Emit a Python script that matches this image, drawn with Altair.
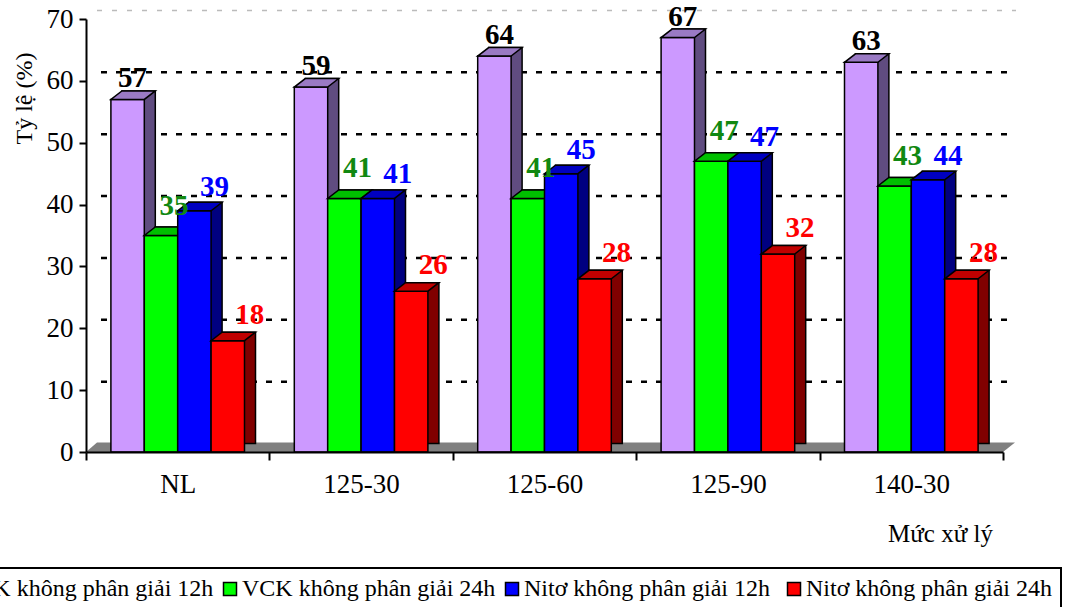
import altair as alt
import pandas as pd

# ---------------- data ----------------
categories = ["NL", "125-30", "125-60", "125-90", "140-30"]
series_names = [
    "VCK không phân giải 12h",
    "VCK không phân giải 24h",
    "Nitơ không phân giải 12h",
    "Nitơ không phân giải 24h",
]
vck_12h = [57, 59, 64, 67, 63]
vck_24h = [35, 41, 41, 47, 43]
nito_12h = [39, 41, 45, 47, 44]
nito_24h = [18, 26, 28, 32, 28]
series_values = [vck_12h, vck_24h, nito_12h, nito_24h]
y_ticks = [0, 10, 20, 30, 40, 50, 60, 70]
grid_values = [10, 20, 30, 40, 50, 60]
top_grid = [70]

# ---------------- style ----------------
FONT = "Liberation Serif"
face_colors = ["#cc99ff", "#00ff00", "#0000ff", "#ff0000"]
top_colors = ["#9a7ac4", "#00c000", "#0000c0", "#c00000"]
side_colors = ["#604c80", "#008000", "#000080", "#800000"]
label_colors = ["#000000", "#118811", "#0000ff", "#ff0000"]
label_dx = [5, 13, 20, 22]
label_dy = [-12, -21, -15, -17]

W, H = 917, 433
BAR = 33.4
DX, DY = 11, 8.5
shifts = [(-1.5 + i) * BAR for i in range(4)]

x_enc = alt.X(
    "category:N",
    sort=categories,
    scale=alt.Scale(domain=categories, paddingInner=0, paddingOuter=0),
    axis=alt.Axis(
        title="Mức xử lý", titleX=854, titleY=81, titleAlign="center",
        titleBaseline="middle", titleFont=FONT, titleFontSize=25,
        titleFontWeight="normal", titleColor="black",
        labelAngle=0, labelFont=FONT, labelFontSize=27, labelColor="black",
        labelPadding=11, tickBand="extent", tickSize=8, tickWidth=2,
        tickColor="black", domainColor="black", domainWidth=2, grid=False,
        zindex=1,
    ),
)
y_enc = alt.Y(
    "value:Q",
    scale=alt.Scale(domain=[0, 70], nice=False, zero=True),
    axis=alt.Axis(
        values=y_ticks, title="Tỷ lệ (%)", titleFont=FONT, titleFontSize=24,
        titleFontWeight="normal", titleColor="black", titleAngle=-90,
        titleX=-62, titleY=79, titleAlign="center", titleBaseline="middle",
        labelFont=FONT, labelFontSize=27, labelColor="black", labelPadding=6,
        tickSize=7, tickWidth=2, tickColor="black", domainColor="black",
        domainWidth=2, grid=False, zindex=1,
    ),
)

layers = []

# back wall gridlines (3D offset)
grid_df = pd.DataFrame({"value": grid_values})
layers.append(
    alt.Chart(grid_df).mark_rule(
        color="black", strokeWidth=2.5, strokeDash=[6, 9], strokeDashOffset=-4,
        yOffset=-DY,
    ).encode(y=y_enc, x=alt.value(DX), x2=alt.value(W + 13))
)
top_df = pd.DataFrame({"value": top_grid})
layers.append(
    alt.Chart(top_df).mark_rule(
        color="#bbbbbb", strokeWidth=1.5, strokeDash=[5, 10], yOffset=-DY,
    ).encode(y=y_enc, x=alt.value(DX), x2=alt.value(W + 13))
)

# floor
floor_df = pd.DataFrame({"value": [0]})
floor_path = f"M 0 0 L {W} 0 L {W + DX + 1} {-DY - 1} L {DX} {-DY - 1} Z"
layers.append(
    alt.Chart(floor_df).mark_point(
        shape=floor_path, size=4, filled=True, fill="#808080", opacity=1,
        strokeWidth=0,
    ).encode(x=alt.value(0), y=y_enc)
)

color_scale = alt.Scale(domain=series_names, range=face_colors)
legend = alt.Legend(
    orient="none", legendX=-159, legendY=549, direction="horizontal",
    columns=4, gridAlign="all", columnPadding=4, symbolType="square",
    symbolSize=169, symbolStrokeColor="black", symbolStrokeWidth=1.5,
    symbolOpacity=1, labelFont=FONT, labelFontSize=24, labelColor="black",
    labelLimit=0, labelOffset=0, strokeColor="black", padding=9, title=None,
)

half = BAR / 2
top_path = (
    f"M {-half} 0 L {half} 0 L {half + DX} {-DY} L {-half + DX} {-DY} Z"
)

for i, (name, vals) in enumerate(zip(series_names, series_values)):
    df = pd.DataFrame({"category": categories, "value": vals, "series": name})
    base = alt.Chart(df)
    # side / back face
    layers.append(
        base.mark_bar(
            width=BAR, xOffset=shifts[i] + DX, yOffset=-DY, y2Offset=-DY,
            color=side_colors[i], stroke="black", strokeWidth=1.5,
        ).encode(x=x_enc, y=y_enc)
    )
    # front face
    layers.append(
        base.mark_bar(
            width=BAR, xOffset=shifts[i], stroke="black", strokeWidth=1.5,
            opacity=1,
        ).encode(
            x=x_enc, y=y_enc,
            color=alt.Color("series:N", scale=color_scale, legend=legend),
        )
    )
    # top face
    layers.append(
        base.mark_point(
            shape=top_path, size=4, filled=True, fill=top_colors[i],
            stroke="black", strokeWidth=1.5, opacity=1, xOffset=shifts[i],
        ).encode(x=x_enc, y=y_enc)
    )

for i, (name, vals) in enumerate(zip(series_names, series_values)):
    df = pd.DataFrame({"category": categories, "value": vals, "series": name})
    layers.append(
        alt.Chart(df).mark_text(
            dx=shifts[i] + label_dx[i], dy=label_dy[i], align="center",
            baseline="alphabetic", font=FONT, fontSize=29, fontWeight="bold",
            color=label_colors[i],
        ).encode(x=x_enc, y=y_enc, text=alt.Text("value:Q"))
    )

chart = (
    alt.layer(*layers)
    .properties(
        width=W, height=H,
        autosize=alt.AutoSizeParams(type="none"),
        padding={"left": 86, "top": 19, "right": 73, "bottom": 155},
        background="white",
    )
    .configure_view(stroke=None)
    .configure_legend(strokeWidth=2)
)

chart.save("out.html", embed_options={"renderer": "svg", "actions": False})
